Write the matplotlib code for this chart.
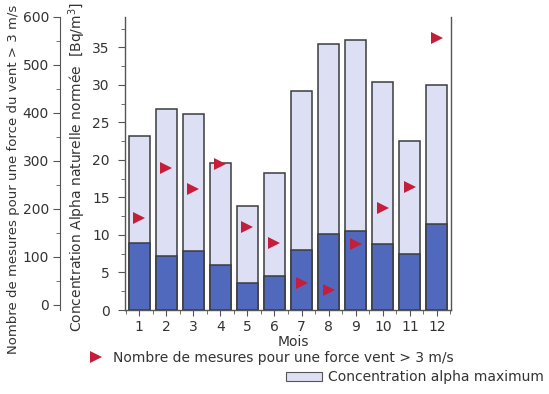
import matplotlib
matplotlib.use("Agg")
import matplotlib.pyplot as plt
from matplotlib.ticker import MultipleLocator
from matplotlib.lines import Line2D
from matplotlib.patches import Patch

months = [1, 2, 3, 4, 5, 6, 7, 8, 9, 10, 11, 12]
month_labels = ["1", "2", "3", "4", "5", "6", "7", "8", "9", "10", "11", "12"]
conc_max = [23.2, 26.8, 26.1, 19.6, 13.9, 18.2, 29.2, 35.5, 36.0, 30.4, 22.5, 30.0]
conc_mean = [8.9, 7.2, 7.8, 6.0, 3.6, 4.5, 8.0, 10.1, 10.5, 8.8, 7.5, 11.5]
n_mesures = [181, 284, 241, 294, 162, 129, 46, 31, 126, 201, 245, 555]

W, H = 549, 394
fig = plt.figure(figsize=(W / 100, H / 100), dpi=100)
FS = 8.5
TXT = "#333333"
plt.rcParams['font.family'] = ['DejaVu Sans']

def fr(x0, y_top, x1, y_bot):
    return [x0 / W, 1 - y_bot / H, (x1 - x0) / W, (y_bot - y_top) / H]

# main axes (inner concentration axis)
ax = fig.add_axes(fr(125, 16.5, 451, 310))
light = "#dde0f5"
dark = "#5069bd"
edge = "#3c3c3c"
ax.bar(months, conc_max, width=0.78, color=light, edgecolor=edge, linewidth=1.1, zorder=2)
ax.bar(months, conc_mean, width=0.78, color=dark, edgecolor=edge, linewidth=1.1, zorder=3)
ax.set_xlim(0.48, 12.52)
ax.set_ylim(0, 39.1)
ax.set_xticks(months)
ax.set_xticklabels(month_labels)
ax.xaxis.set_minor_locator(MultipleLocator(0.5))
ax.yaxis.set_major_locator(MultipleLocator(5))
ax.yaxis.set_minor_locator(MultipleLocator(2.5))
ax.spines['top'].set_visible(False)
for s in ['left', 'bottom', 'right']:
    ax.spines[s].set_color("#555555")
    ax.spines[s].set_linewidth(1.0)
ax.tick_params(axis='both', which='both', color="#555555", labelcolor=TXT, labelsize=10)
ax.tick_params(axis='y', which='major', length=5, pad=6)
ax.tick_params(axis='y', which='minor', length=3)
ax.tick_params(axis='x', which='major', length=4, pad=3)
ax.tick_params(axis='x', which='minor', length=3)
ax.set_xlabel("Mois", fontsize=10, color=TXT, labelpad=0)
ax.xaxis.set_label_coords(0.515, -0.085)
ax.set_ylabel("Concentration Alpha naturelle normée  [Bq/m$^3$]", fontsize=10, color=TXT)
ax.yaxis.set_label_coords(-0.113, 0.486)

# twin for triangles (same scale as outer axis)
ax2 = ax.twinx()
ax2.set_ylim(-10.5, 600)
ax2.plot(months, n_mesures, linestyle="none", marker=">", markersize=8,
         color="#c41e3a", markeredgewidth=0, zorder=5)
ax2.axis("off")

# outer axis
axo = fig.add_axes(fr(60, 16.5, 60.5, 310))
axo.set_ylim(-10.5, 600)
axo.set_xticks([])
axo.yaxis.set_major_locator(MultipleLocator(100))
axo.yaxis.set_minor_locator(MultipleLocator(50))
for s in ['top', 'right', 'bottom']:
    axo.spines[s].set_visible(False)
axo.spines['left'].set_color("#555555")
axo.patch.set_visible(False)
axo.tick_params(axis='y', which='both', color="#555555", labelcolor=TXT, labelsize=10)
axo.tick_params(axis='y', which='major', length=5, pad=3)
axo.tick_params(axis='y', which='minor', length=3)
axo.set_ylabel("Nombre de mesures pour une force du vent > 3 m/s", fontsize=9.5, color=TXT)
axo.yaxis.set_label_coords(-80, 0.445)

# legends
h1 = Line2D([], [], linestyle="none", marker=">", markersize=8, color="#c41e3a", markeredgewidth=0)
fig.legend([h1], ["Nombre de mesures pour une force vent > 3 m/s"],
           loc="center left", bbox_to_anchor=(73 / W, 1 - 358 / H), frameon=False,
           fontsize=10, handlelength=1.5, handletextpad=0.5, labelcolor=TXT)
h2 = Patch(facecolor=light, edgecolor="#555555", linewidth=0.8)
fig.legend([h2], ["Concentration alpha maximum"],
           loc="center right", bbox_to_anchor=(556 / W, 1 - 377 / H), frameon=False,
           fontsize=10, handlelength=2.6, handleheight=0.6, handletextpad=0.4, labelcolor=TXT)

fig.savefig("out.png", dpi=100)
